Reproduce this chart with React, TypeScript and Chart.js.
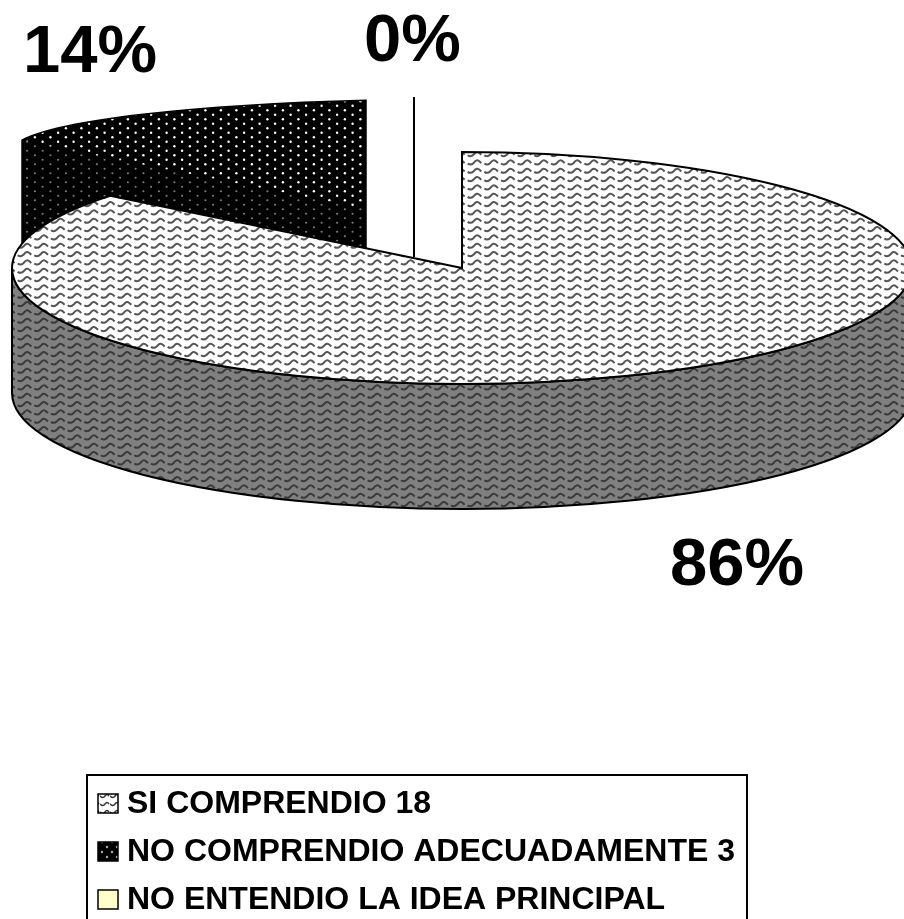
import React, { useEffect, useRef } from "react";
import { Chart, registerables } from "chart.js";

Chart.register(...registerables);

const categories = ["SI COMPRENDIO 18", "NO COMPRENDIO ADECUADAMENTE 3", "NO ENTENDIO LA IDEA PRINCIPAL"];
const seriesValues = [18, 3, 0];
const FONT = '"Liberation Sans", Arial, sans-serif';

const CX = 462, CY = 268, RX = 450, RY = 116, DEPTH = 125;

function tile(w: number, h: number, draw: (c: CanvasRenderingContext2D) => void) {
  const t = document.createElement("canvas");
  t.width = w; t.height = h;
  const c = t.getContext("2d")!;
  draw(c);
  return t;
}
function waveTile(bg: string, fg: string) {
  const px = 50 / 3, py = 25 / 3;
  return tile(50, 25, (c) => {
    c.fillStyle = bg; c.fillRect(0, 0, 50, 25);
    c.strokeStyle = fg; c.lineWidth = 2;
    c.lineCap = "butt";
    for (let row = 0; row < 3; row++) {
      const y0 = row * py;
      for (let col = -1; col < 4; col++) {
        const x0 = col * px;
        c.beginPath();
        c.moveTo(x0 + 1, y0 + 5.2);
        c.quadraticCurveTo(x0 + 4, y0 + 7.4, x0 + 7, y0 + 4.6);
        c.quadraticCurveTo(x0 + 10, y0 + 0.2, x0 + 13, y0 + 3.2);
        c.lineTo(x0 + 14.6, y0 + 4.8);
        c.stroke();
      }
    }
  });
}
function dotTile(dot: string, r: number) {
  return tile(31, 9, (c) => {
    c.fillStyle = "#000"; c.fillRect(0, 0, 31, 9);
    c.fillStyle = dot;
    for (const [x, y] of [[3.9, 2.25], [11.6, 6.75], [19.4, 2.25], [27.1, 6.75]]) {
      c.beginPath(); c.arc(x, y, r, 0, Math.PI * 2); c.fill();
    }
  });
}

export default function App() {
  const ref = useRef<HTMLCanvasElement>(null);
  useEffect(() => {
    document.body.style.margin = "0";
    const canvas = ref.current!;
    const ctx0 = canvas.getContext("2d")!;
    const rep = (t: HTMLCanvasElement) => ctx0.createPattern(t, "repeat")!;
    const faceWave = waveTile("#ffffff", "#555555");
    const dimDots = dotTile("#7a7a7a", 1.1);
    const arcWave = rep(faceWave);
    const arcDim = rep(dimDots);
    const wallWave = rep(waveTile("#808080", "#3a3a3a"));
    const brightDots = rep(dotTile("#ffffff", 1.2));
    const flatDim = rep(dimDots);
    const legendWave = rep(tile(10, 8, (c) => {
      c.fillStyle = "#fff"; c.fillRect(0, 0, 10, 8);
      c.strokeStyle = "#333"; c.lineWidth = 1.4;
      c.beginPath();
      c.moveTo(0, 4); c.quadraticCurveTo(3, 7, 5, 4); c.quadraticCurveTo(7, 1, 9, 4);
      c.stroke();
    }));
    const legendDots = rep(tile(10, 10, (c) => {
      c.fillStyle = "#000"; c.fillRect(0, 0, 10, 10);
      c.fillStyle = "#aaa";
      for (const [x, y] of [[2, 2], [7, 7]]) { c.beginPath(); c.arc(x, y, 1.2, 0, 7); c.fill(); }
    }));
    const legendIcons: (string | CanvasPattern)[] = [legendWave, legendDots, "#FFFFCC"];

    const scene = {
      id: "scene",
      beforeDraw(chart: any) {
        const c = chart.ctx;
        c.save(); c.fillStyle = "#fff"; c.fillRect(0, 0, 904, 919); c.restore();
        const lg = chart.legend;
        lg.left = 82; lg.right = 770; lg.top = 772; lg.bottom = 919;
      },
      beforeDatasetsDraw(chart: any) {
        const c = chart.ctx;
        const big = chart.getDatasetMeta(0).data[0];
        c.save();
        // back wall of the second slice
        const wx = (x: number) => Math.acos((x - CX) / RX);
        c.beginPath();
        c.ellipse(CX, 151, RX, 52, 0, -wx(22), -wx(366), false);
        c.lineTo(366, 262); c.lineTo(22, 262); c.closePath();
        c.fillStyle = brightDots; c.fill();
        c.strokeStyle = "#000"; c.lineWidth = 1.5; c.stroke();
        // darker lower part
        c.beginPath();
        c.moveTo(22, 140); c.lineTo(366, 209); c.lineTo(366, 262); c.lineTo(22, 262); c.closePath();
        c.fillStyle = flatDim; c.fill();
        // outer wall of the large slice
        c.beginPath();
        c.ellipse(CX, CY + DEPTH, RX, RY, 0, Math.PI, 0, true);
        c.ellipse(CX, CY, RX, RY, 0, 0, Math.PI, false);
        c.closePath();
        c.fillStyle = wallWave; c.fill();
        c.strokeStyle = "#000"; c.lineWidth = 2; c.stroke();
        // zero-size slice
        c.beginPath(); c.moveTo(414, 97); c.lineTo(414, 257); c.lineWidth = 2; c.stroke();
        // flatten the library's arcs; the small slice shows only in the dark part
        c.beginPath();
        c.moveTo(CX, CY);
        c.ellipse(CX, CY, RX, RY, 0, big.startAngle, big.endAngle, false);
        c.closePath();
        c.moveTo(22, 140); c.lineTo(366, 209); c.lineTo(366, 262); c.lineTo(22, 262); c.closePath();
        c.clip();
        const k = RY / RX;
        const inv = new DOMMatrix().translate(big.x, big.y).scale(1, 1 / k).translate(-CX, -CY);
        arcWave.setTransform(inv);
        arcDim.setTransform(inv);
        c.translate(CX, CY); c.scale(1, k); c.translate(-big.x, -big.y);
      },
      afterDatasetsDraw(chart: any) {
        const c = chart.ctx;
        c.restore();
        const big = chart.getDatasetMeta(0).data[0];
        c.save();
        c.beginPath();
        c.moveTo(CX, CY);
        c.ellipse(CX, CY, RX, RY, 0, big.startAngle, big.endAngle, false);
        c.closePath();
        c.strokeStyle = "#000"; c.lineWidth = 2; c.stroke();
        // percentages
        const total = seriesValues.reduce((a, b) => a + b, 0);
        const pct = seriesValues.map((v) => `${Math.round((v / total) * 100)}%`);
        const at: [number, number][] = [[670, 585], [23, 72], [364, 61]];
        c.fillStyle = "#000";
        c.font = `bold 67px ${FONT}`;
        c.textAlign = "left"; c.textBaseline = "alphabetic";
        pct.forEach((p, i) => c.fillText(p, at[i][0], at[i][1]));
        c.restore();
      },
      afterDraw(chart: any) {
        const c = chart.ctx;
        c.save();
        c.strokeStyle = "#000"; c.lineWidth = 2;
        c.strokeRect(87, 775, 660, 220);
        legendIcons.forEach((fill, i) => {
          const y = 794 + i * 48;
          c.fillStyle = fill;
          c.fillRect(98, y, 20, 19);
          c.lineWidth = 1.5;
          c.strokeRect(98, y, 20, 19);
        });
        c.restore();
      },
    };

    const chart = new Chart(canvas, {
      type: "pie",
      data: {
        labels: categories,
        datasets: [{
          data: seriesValues,
          backgroundColor: [arcWave, arcDim, "#FFFFCC"],
          borderWidth: 0,
          clip: false,
        }],
      },
      options: {
        responsive: false,
        animation: false,
        devicePixelRatio: 1,
        events: [],
        radius: RX,
        layout: { padding: 0 },
        plugins: {
          tooltip: { enabled: false },
          legend: {
            display: true,
            position: "bottom",
            align: "start",
            maxWidth: 680,
            labels: {
              color: "#000",
              font: { family: FONT, size: 32, weight: "bold" },
              boxWidth: 13,
              boxHeight: 13,
              padding: 16,
              generateLabels: () => categories.map((text, index) => ({
                text, index, hidden: false,
                fillStyle: "rgba(0,0,0,0)", strokeStyle: "rgba(0,0,0,0)", lineWidth: 0,
              })),
            },
          },
        },
      } as any,
      plugins: [scene],
    });
    return () => chart.destroy();
  }, []);
  return <canvas ref={ref} width={904} height={919} style={{ display: "block", width: 904, height: 919 }} />;
}
